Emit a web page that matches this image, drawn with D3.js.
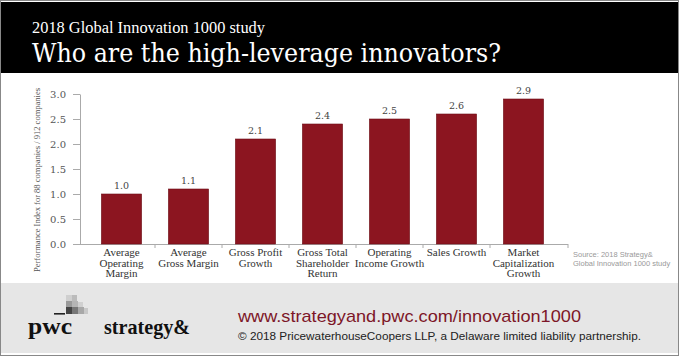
<!DOCTYPE html>
<html><head><meta charset="utf-8">
<script src="https://cdn.jsdelivr.net/npm/d3@7"></script>
<style>html,body{margin:0;padding:0;background:#fff;}svg{display:block;}</style>
</head><body>
<script>
const categories = ["Average Operating Margin","Average Gross Margin","Gross Profit Growth","Gross Total Shareholder Return","Operating Income Growth","Sales Growth","Market Capitalization Growth"];
const categoryLines = [["Average","Operating","Margin"],["Average","Gross Margin"],["Gross Profit","Growth"],["Gross Total","Shareholder","Return"],["Operating","Income Growth"],["Sales Growth"],["Market","Capitalization","Growth"]];
const values = [1.0, 1.1, 2.1, 2.4, 2.5, 2.6, 2.9];
const yTicks = [0, 0.5, 1.0, 1.5, 2.0, 2.5, 3.0];
const subtitle = "2018 Global Innovation 1000 study";
const title = "Who are the high-leverage innovators?";
const yLabel = "Performance Index for 88 companies / 912 companies";
const sourceLines = ["Source: 2018 Strategy&", "Global Innovation 1000 study"];
const url = "www.strategyand.pwc.com/innovation1000";
const copyright = "\u00A9 2018 PricewaterhouseCoopers LLP, a Delaware limited liability partnership.";

const W = 680, H = 356;
const serif = "'DejaVu Serif','Liberation Serif',serif";
const condSerif = "'DejaVu Serif Condensed','DejaVu Serif','Liberation Serif',serif";
const sans = "'Liberation Sans',Arial,sans-serif";
const svg = d3.select("body").append("svg").attr("width", W).attr("height", H);

svg.append("rect").attr("x",0).attr("y",0).attr("width",W).attr("height",H).attr("fill","#fff");
// header
svg.append("rect").attr("x",1).attr("y",2).attr("width",677).attr("height",71).attr("fill","#000");
svg.append("text").attr("x",32).attr("y",33).attr("fill","#fff")
  .style("font-family","'Liberation Serif',serif").style("font-size","16px")
  .attr("textLength",233).attr("lengthAdjust","spacingAndGlyphs").text(subtitle);
svg.append("text").attr("x",32).attr("y",62).attr("fill","#fff")
  .style("font-family",condSerif).style("font-size","26px")
  .attr("textLength",469).attr("lengthAdjust","spacingAndGlyphs").text(title);

// footer
svg.append("rect").attr("x",1).attr("y",283).attr("width",677).attr("height",70).attr("fill","#e6e6e6");

// scales
const x = d3.scaleBand().domain(categories).range([88, 557]).paddingInner(0.4).paddingOuter(0.2);
const y = d3.scaleLinear().domain([0, 3]).range([244, 94]);

// y axis
const yAxis = svg.append("g").attr("transform","translate(80,0)")
  .call(d3.axisLeft(y).tickValues(yTicks).tickFormat(d3.format(".1f")).tickSize(7).tickSizeOuter(0).tickPadding(7));
yAxis.selectAll("path,line").attr("stroke","#aaa");
yAxis.selectAll("text").attr("fill","#555").style("font-family",serif).style("font-size","10px");

svg.append("text").attr("transform","translate(40,180) rotate(-90)").attr("text-anchor","middle")
  .attr("fill","#555").style("font-family","'Liberation Serif',serif").style("font-size","9px")
  .attr("textLength",184).attr("lengthAdjust","spacingAndGlyphs").text(yLabel);

// x axis line & ticks
const step = x.step(), gap = step - x.bandwidth();
svg.append("line").attr("x1",80).attr("x2",568).attr("y1",244.5).attr("y2",244.5).attr("stroke","#aaa");
const bTicks = categories.slice(1).map(c => x(c) - gap/2).concat([568]);
svg.selectAll(".bt").data(bTicks).enter().append("line")
  .attr("x1",d=>d).attr("x2",d=>d).attr("y1",244).attr("y2",248).attr("stroke","#aaa");

// bars
svg.selectAll(".bar").data(values).enter().append("rect")
  .attr("x",(d,i)=>x(categories[i])).attr("width",x.bandwidth())
  .attr("y",d=>y(d)).attr("height",d=>y(0)-y(d))
  .attr("fill","#8c1520").attr("stroke","#6e0f18").attr("stroke-width",0.6);

svg.selectAll(".val").data(values).enter().append("text")
  .attr("x",(d,i)=>x(categories[i])+x.bandwidth()/2).attr("y",d=>y(d)-5)
  .attr("text-anchor","middle").attr("fill","#444")
  .style("font-family",serif).style("font-size","9.5px").text(d=>d.toFixed(1));

// category labels
categoryLines.forEach((lines,i)=>{
  const t = svg.append("text").attr("text-anchor","middle").attr("fill","#333")
    .style("font-family","'Liberation Serif',serif").style("font-size","11px");
  lines.forEach((l,j)=>{
    t.append("tspan").attr("x",x(categories[i])+x.bandwidth()/2).attr("y",256+j*10.5).text(l);
  });
});

// source
sourceLines.forEach((s,j)=>{
  svg.append("text").attr("x",573).attr("y",257+j*9).attr("fill","#999")
    .style("font-family",sans).style("font-size","7.5px").text(s);
});

// logos
const sq = [[66,295,6,6,"#cfcfcf"],[66,301,6,6,"#9a9a9a"],[72,301,6,6,"#b5b5b5"],[66,307,6,7,"#444"],[72,307,6,7,"#777"],[78,307,6,7,"#a8a8a8"],[72,295,5,6,"#bbb"],[78,302,5,5,"#d0d0d0"],[84,308,4,6,"#c8c8c8"]];
sq.forEach(s=>svg.append("rect").attr("x",s[0]).attr("y",s[1]).attr("width",s[2]).attr("height",s[3]).attr("fill",s[4]));
svg.append("rect").attr("x",54).attr("y",313).attr("width",11).attr("height",1.6).attr("fill","#222");
svg.append("text").attr("x",28).attr("y",334).attr("fill","#111")
  .style("font-family","'Liberation Serif',serif").style("font-size","23px").style("font-weight","bold")
  .attr("textLength",44).attr("lengthAdjust","spacingAndGlyphs").text("pwc");
svg.append("text").attr("x",104).attr("y",334).attr("fill","#111")
  .style("font-family","'Liberation Serif',serif").style("font-size","21px").style("font-weight","bold")
  .attr("textLength",86).attr("lengthAdjust","spacingAndGlyphs").text("strategy&");

svg.append("text").attr("x",238).attr("y",322).attr("fill","#7d1628")
  .style("font-family",sans).style("font-size","17px")
  .attr("textLength",343).attr("lengthAdjust","spacingAndGlyphs").text(url);
svg.append("text").attr("x",238).attr("y",340).attr("fill","#222")
  .style("font-family",sans).style("font-size","11.5px")
  .attr("textLength",403).attr("lengthAdjust","spacingAndGlyphs").text(copyright);

// frame
svg.append("rect").attr("x",0.5).attr("y",0.5).attr("width",678).attr("height",355).attr("fill","none").attr("stroke","#888");
</script>
</body></html>
